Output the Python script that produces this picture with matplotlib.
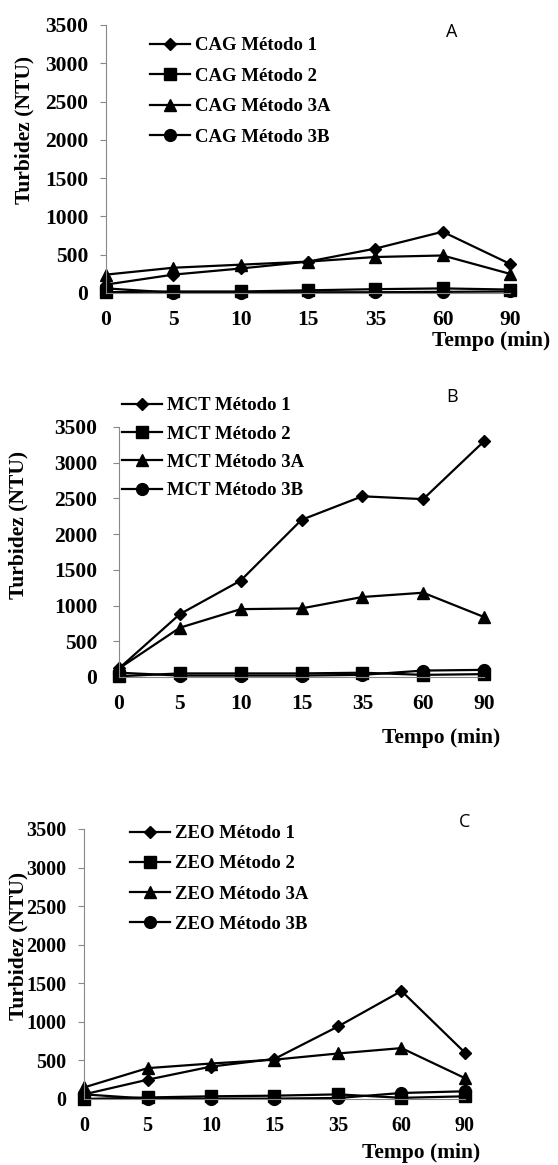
import matplotlib
matplotlib.use("Agg")
import matplotlib.pyplot as plt

# ---- data ----
tempos = ["0", "5", "10", "15", "35", "60", "90"]
y_ticks = [0, 500, 1000, 1500, 2000, 2500, 3000, 3500]
metodos = ["Método 1", "Método 2", "Método 3A", "Método 3B"]

cag_m1 = [110, 240, 320, 410, 580, 800, 380]
cag_m2 = [10, 20, 20, 35, 50, 60, 45]
cag_m3a = [240, 330, 370, 410, 470, 490, 250]
cag_m3b = [60, 5, 5, 10, 10, 15, 20]

mct_m1 = [120, 880, 1350, 2200, 2530, 2490, 3300]
mct_m2 = [10, 50, 50, 50, 60, 30, 40]
mct_m3a = [120, 690, 950, 960, 1120, 1180, 840]
mct_m3b = [60, 20, 20, 20, 30, 90, 100]

zeo_m1 = [60, 250, 420, 520, 940, 1400, 600]
zeo_m2 = [0, 20, 35, 43, 60, 15, 35]
zeo_m3a = [150, 400, 460, 510, 590, 660, 270]
zeo_m3b = [60, 5, 5, 5, 13, 78, 100]

W, H = 558, 1165
fig = plt.figure(figsize=(W / 100, H / 100), dpi=100)

SERIF = "Liberation Serif"
SANS = "Open Sans"
PX = 72 / 100  # points per pixel

def px_axes(left, right, top, bottom):
    return fig.add_axes([left / W, 1 - bottom / H, (right - left) / W, (bottom - top) / H])

markers = ["D", "s", "^", "o"]
msizes = [6.5, 8.5, 9, 8.5]

def panel(ax, prefix, series, letter, letter_xy, xlabel_xy, ylab_xy, ypad_px,
          leg_xy, leg_spacing, tick_fs=15.5):
    x = list(range(len(tempos)))
    handles = []
    for vals, m, ms, nm in zip(series, markers, msizes, metodos):
        h, = ax.plot(x, vals, color="black", lw=1.6, marker=m, ms=ms,
                     markerfacecolor="black", markeredgecolor="black",
                     clip_on=False, label=f"{prefix} {nm}")
        handles.append(h)
    ax.set_xlim(0, len(tempos) - 1)
    ax.set_ylim(0, 3500)
    ax.set_yticks(y_ticks)
    ax.set_yticklabels([str(v) for v in y_ticks], fontfamily=SERIF,
                       fontweight="bold", fontsize=tick_fs)
    ax.set_xticks(x)
    ax.set_xticklabels(tempos, fontfamily=SERIF, fontweight="bold", fontsize=tick_fs)
    for s in ["top", "right"]:
        ax.spines[s].set_visible(False)
    ax.spines["left"].set_color("#888888")
    ax.spines["bottom"].set_color("#888888")
    ax.tick_params(axis="y", length=4, color="#888888", pad=ypad_px * PX)
    ax.tick_params(axis="x", length=0, pad=12)
    ax.set_ylabel("Turbidez (NTU)", fontfamily=SERIF, fontweight="bold", fontsize=15.5)
    ax.yaxis.set_label_coords(*ylab_xy)
    fig.text(letter_xy[0] / W, 1 - letter_xy[1] / H, letter, fontfamily=SANS,
             fontsize=13, ha="center", va="center")
    fig.text(xlabel_xy[0] / W, 1 - xlabel_xy[1] / H, "Tempo (min)", fontfamily=SERIF,
             fontweight="bold", fontsize=15.5, ha="right", va="center")
    leg = fig.legend(handles=handles, loc="upper left",
                     bbox_to_anchor=(leg_xy[0] / W, 1 - leg_xy[1] / H),
                     frameon=False, prop={"family": SERIF, "weight": "bold", "size": 13.5},
                     handlelength=2.15, handletextpad=0.25, labelspacing=leg_spacing,
                     borderpad=0.3, borderaxespad=0)
    return leg

# Panel A
axA = px_axes(106, 510, 25, 293)
panel(axA, "CAG", [cag_m1, cag_m2, cag_m3a, cag_m3b], "A", (452, 32), (550, 341),
      (-0.178, 0.61), 12, (144.5, 31.5), 0.71)

# Panel B
axB = px_axes(119, 484, 427, 677)
panel(axB, "MCT", [mct_m1, mct_m2, mct_m3a, mct_m3b], "B", (452, 397), (500, 738),
      (-0.249, 0.61), 16, (116.5, 391.5), 0.6)

# Panel C
axC = px_axes(84, 465, 829, 1099)
panel(axC, "ZEO", [zeo_m1, zeo_m2, zeo_m3a, zeo_m3b], "C", (465, 822), (480, 1153),
      (-0.145, 0.567), 12, (124.5, 819.5), 0.7, tick_fs=14.5)

fig.savefig("out.png", dpi=100, facecolor="white")
